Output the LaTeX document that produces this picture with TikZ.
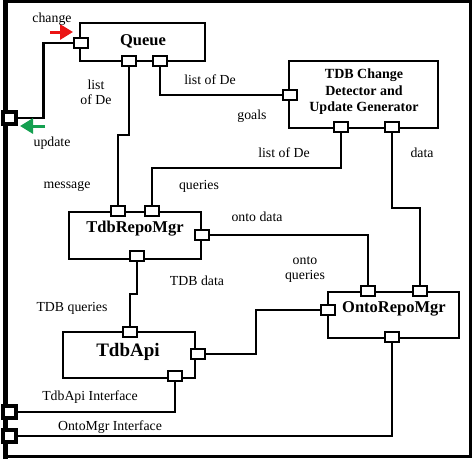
\documentclass[tikz,border=0pt]{standalone}
\usepackage{fontspec}
\setmainfont{Liberation Serif}
\usetikzlibrary{arrows.meta}
\definecolor{arrred}{RGB}{235,20,20}
\definecolor{arrgreen}{RGB}{20,160,80}
\tikzset{
  comp/.style={draw, line width=2.2pt},
  port/.style={draw, fill=white, line width=2.2pt, minimum width=14pt, minimum height=10.5pt, inner sep=0pt},
  fport/.style={draw, fill=white, line width=4pt, minimum width=13pt, minimum height=12pt, inner sep=0pt},
  conn/.style={line width=2.2pt},
  lbl/.style={font=\fontsize{13.8}{15}\selectfont, inner sep=0pt, align=center},
  title/.style={font=\fontsize{16.5}{18}\selectfont\bfseries, inner sep=0pt, align=center},
  sig/.style={line width=3pt, -{Triangle[length=13pt,width=15pt]}},
}
\begin{document}
\begin{tikzpicture}[x=1pt,y=-1pt]
\useasboundingbox (0,0) rectangle (474,459);
% outer frame
\draw[line width=3pt] (5,1.5) rectangle (470.5,456.5);
\draw[line width=5pt] (5.5,0) -- (5.5,459);

% component boxes
\draw[comp] (80,23) rectangle (205,61);
\node[title] (queue) at (143,41) {Queue};
\draw[comp] (289,61) rectangle (438,128);
\node[font=\fontsize{14}{16.5}\selectfont\bfseries, inner sep=0pt, align=center] (tdb) at (364,92) {TDB Change\\Detector and\\Update Generator};
\draw[comp] (69,212) rectangle (201,259);
\node[title] (repo) at (135,229) {TdbRepoMgr};
\draw[comp] (328,292) rectangle (459,338);
\node[title] (onto) at (394,309) {OntoRepoMgr};
\draw[comp] (63,332) rectangle (195,378);
\node[font=\fontsize{19}{21}\selectfont\bfseries, inner sep=0pt] (api) at (128,352) {TdbApi};

% port positions
\coordinate (fp1c) at (9,118);
\coordinate (fp2c) at (9,412);
\coordinate (fp3c) at (9,436);
\coordinate (qLc) at (81,43);
\coordinate (qB1c) at (129,61);
\coordinate (qB2c) at (160,61);
\coordinate (tLc) at (290,95);
\coordinate (tB1c) at (341,127);
\coordinate (tB2c) at (392,127);
\coordinate (rT1c) at (118,211);
\coordinate (rT2c) at (152,211);
\coordinate (rRc) at (202,235);
\coordinate (rBc) at (137,256);
\coordinate (oT1c) at (368,291);
\coordinate (oT2c) at (420,291);
\coordinate (oLc) at (328,310);
\coordinate (oBc) at (392,337);
\coordinate (aTc) at (130,332);
\coordinate (aRc) at (198,354);
\coordinate (aBc) at (175,376);

\node[fport] (fp1) at (fp1c) {};
\node[fport] (fp2) at (fp2c) {};
\node[fport] (fp3) at (fp3c) {};
\node[port] (qL) at (qLc) {};
\node[port] (qB1) at (qB1c) {};
\node[port] (qB2) at (qB2c) {};
\node[port] (tL) at (tLc) {};
\node[port] (tB1) at (tB1c) {};
\node[port] (tB2) at (tB2c) {};
\node[port] (rT1) at (rT1c) {};
\node[port] (rT2) at (rT2c) {};
\node[port] (rR) at (rRc) {};
\node[port] (rB) at (rBc) {};
\node[port] (oT1) at (oT1c) {};
\node[port] (oT2) at (oT2c) {};
\node[port] (oL) at (oLc) {};
\node[port] (oB) at (oBc) {};
\node[port] (aT) at (aTc) {};
\node[port] (aR) at (aRc) {};
\node[port] (aB) at (aBc) {};

\draw[conn] (fp1.east) -- ++(26,0) |- (qL.west);
\draw[conn] (qB1.south) -- ++(0,68) -| (rT1.north);
\draw[conn] (qB2.south) |- (tL.west);
\draw[conn] (tB1.south) -- ++(0,35) -| (rT2.north);
\draw[conn] (tB2.south) -- ++(0,75) -| (oT2.north);
\draw[conn] (rR.east) -| (oT1.north);
\draw[conn] (rB.south) -- ++(0,32) -| (aT.north);
\draw[conn] (aR.east) -- ++(50,0) |- (oL.west);
\draw[conn] (aB.south) |- (fp2.east);
\draw[conn] (oB.south) |- (fp3.east);

% signal arrows
\coordinate (redtail) at (50,32);
\coordinate (redtip) at (73,32);
\draw[sig, arrred] (redtail) -- (redtip);
\coordinate (greentail) at (45,126);
\coordinate (greentip) at (20,126);
\draw[sig, arrgreen] (greentail) -- (greentip);

% labels
\node[lbl] (lchange) at (52,19) {change};
\node[lbl] (lupdate) at (52,143) {update};
\node[lbl] (llist1) at (96,92) {list\\of De};
\node[lbl] (llist2) at (210,80) {list of De};
\node[lbl] (lgoals) at (252,116) {goals};
\node[lbl] (llist3) at (284,153) {list of De};
\node[lbl] (ldata) at (422,153) {data};
\node[lbl] (lmsg) at (67,186) {message};
\node[lbl] (lqueries) at (199,186) {queries};
\node[lbl] (lontodata) at (257,217) {onto data};
\node[lbl] (lontoq) at (305,270) {onto\\queries};
\node[lbl] (ltdbdata) at (197,281) {TDB data};
\node[lbl] (ltdbq) at (72,308) {TDB queries};
\node[lbl] (lapiif) at (90,397) {TdbApi Interface};
\node[lbl] (lontoif) at (110,427) {OntoMgr Interface};
\end{tikzpicture}
\end{document}
